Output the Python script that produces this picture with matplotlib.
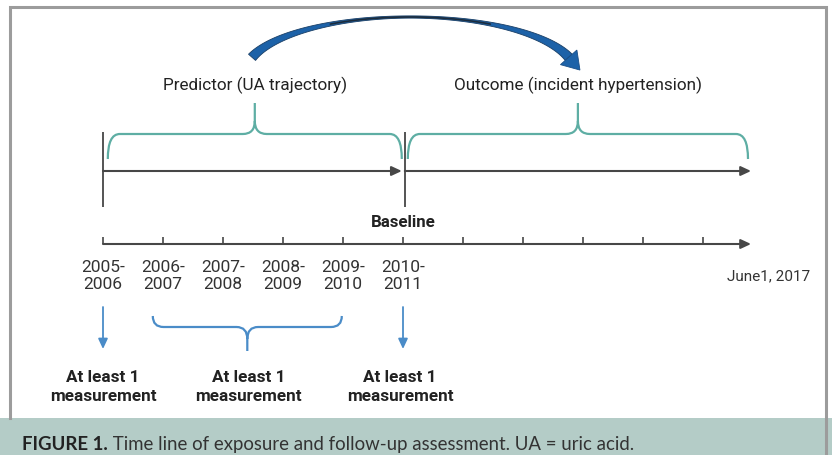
import matplotlib
matplotlib.use("Agg")
import matplotlib.pyplot as plt
import numpy as np
from matplotlib.patches import PathPatch, Rectangle, Polygon
from matplotlib.path import Path

FONT = ["Roboto", "DejaVu Sans"]
plt.rcParams["font.family"] = FONT

# time axis, one unit per survey period
period_labels = ["2005-\n2006", "2006-\n2007", "2007-\n2008",
                 "2008-\n2009", "2009-\n2010", "2010-\n2011"]
n_ticks = 11
axis_end = 10.8
end_label = "June1, 2017"
baseline_idx = 5
baseline_label = "Baseline"

phase_labels = ["Predictor (UA trajectory)", "Outcome (incident hypertension)"]
phase_spans = [(0.08, 4.98), (5.08, 10.75)]

measure_label = "At least 1\nmeasurement"
measure_points = [0, 5]          # single-period windows (arrows)
measure_span = (0.83, 3.98)      # multi-period window (brace)
measure_text_x = [0, 2.42, 4.95]

caption_bold = "FIGURE 1."
caption_rest = " Time line of exposure and follow-up assessment. UA = uric acid."

GRAY = "#474747"
TEAL = "#5eaea4"
BLUE = "#4a8cc8"
DARKBLUE = "#1d62a8"
BAND = "#b4ccc7"

W, H = 832, 456
fig = plt.figure(figsize=(W / 100, H / 100), dpi=100)

# frame axes in pixels (border, caption band, curved arrow)
frame = fig.add_axes([0, 0, 1, 1], zorder=0)
frame.set_xlim(0, W)
frame.set_ylim(H, 0)
frame.axis("off")
frame.add_patch(Rectangle((0, 419), W, H - 419, color=BAND, lw=0))
frame.plot([10, 10, 826, 826], [419, 8, 8, H], color="#9c9c9c", lw=2.2,
           solid_joinstyle="miter")

# main axes: x in periods, y in pixel rows
x0, step = 103, 60
ax = fig.add_axes([0, 0, 1, 1], zorder=1)
ax.set_xlim(-x0 / step, (W - x0) / step)
ax.set_ylim(H, 0)
ax.axis("off")


def arrow(xa, ya, xb, yb, color, lw=1.5):
    ax.annotate("", xy=(xb, yb), xytext=(xa, ya),
                arrowprops=dict(arrowstyle="-|>,head_length=0.6,head_width=0.28",
                                color=color, lw=lw, shrinkA=0, shrinkB=0))


def brace(xa, xb, y_tip, y_bar, y_peak, y_stem, color, r=0.2):
    xm = (xa + xb) / 2
    verts, codes = [], []
    for xe, sgn in ((xa, 1), (xb, -1)):
        verts += [(xe, y_tip), (xe, y_bar), (xe + sgn * r, y_bar),
                  (xm - sgn * r, y_bar), (xm, y_bar), (xm, y_peak)]
        codes += [Path.MOVETO, Path.CURVE3, Path.CURVE3,
                  Path.LINETO, Path.CURVE3, Path.CURVE3]
    verts += [(xm, y_peak), (xm, y_stem)]
    codes += [Path.MOVETO, Path.LINETO]
    ax.add_patch(PathPatch(Path(verts, codes), fc="none", ec=color, lw=1.6))
    return xm


# top braces and phase labels
mids = []
for (xa, xb), lab in zip(phase_spans, phase_labels):
    xm = brace(xa, xb, 160, 135, 122, 104, TEAL)
    mids.append(xm)
    ax.text(xm, 85, lab, ha="center", va="center", fontsize=12.3, color="#222222")

# curved arrow from predictor to outcome (elliptic arc, thin at the top)
pa, pb = x0 + step * mids[0], x0 + step * mids[1]
cx, a = (pa + pb) / 2 - 6, (pb - pa) / 2 + 4
cy, b = 75, 57
phi = np.radians(np.linspace(163, 17, 150))
pts = np.column_stack([cx + a * np.cos(phi), cy - b * np.sin(phi)])
tang = np.column_stack([a * np.sin(phi), b * np.cos(phi)])
tang /= np.hypot(tang[:, 0], tang[:, 1])[:, None]
nrm = np.column_stack([-tang[:, 1], tang[:, 0]])
m = np.abs(np.linspace(-1, 1, len(phi)))
hw = 1.1 + 3.6 * m ** 1.6
outline = np.vstack([pts + nrm * hw[:, None], (pts - nrm * hw[:, None])[::-1]])
frame.add_patch(Polygon(outline, closed=True, fc=DARKBLUE, ec="#1a3f66", lw=0.6))
frame.plot(pts[45:105, 0], pts[45:105, 1], color="#1c2c3c", lw=1.2,
           solid_capstyle="round")
end, d = pts[-1], tang[-1]
n = nrm[-1]
frame.add_patch(Polygon([end + n * 11, end - n * 11, end + d * 17],
                        closed=True, fc=DARKBLUE, ec="#1a4f88", lw=0.6))

# exposure / follow-up line
ax.vlines([0, baseline_idx + 0.03], 133, 208, color=GRAY, lw=1.3)
arrow(0, 172, baseline_idx - 0.02, 172, GRAY)
arrow(baseline_idx + 0.03, 172, axis_end, 172, GRAY)
ax.text(baseline_idx, 223, baseline_label, ha="center", va="center",
        fontsize=12.2, fontweight="bold", color="#222222")

# calendar axis
arrow(0, 245, axis_end, 245, GRAY)
ax.vlines(range(n_ticks), 238, 245, color=GRAY, lw=1.2)
for i, lab in enumerate(period_labels):
    ax.text(i, 276, lab, ha="center", va="center", fontsize=12.5,
            linespacing=1.2, color="#333333")
ax.text(axis_end + 0.3, 276, end_label, ha="center", va="center",
        fontsize=11, color="#333333")

# measurement requirements
for xp in measure_points:
    arrow(xp, 308, xp, 350, BLUE, lw=1.3)
brace(measure_span[0], measure_span[1], 317, 328, 340, 352, BLUE, r=0.18)
for xt in measure_text_x:
    ax.text(xt, 387, measure_label, ha="center", va="center", fontsize=12.3,
            fontweight="bold", linespacing=1.35, color="#222222")

# caption
t = frame.text(22, 445, caption_bold, ha="left", va="center", fontsize=13.4,
               fontweight="bold", color="#222222", family=["Lato", "DejaVu Sans"])
frame.annotate(caption_rest, xy=(1, 0), xycoords=t, ha="left", va="bottom",
               fontsize=13.4, color="#333333", family=["Lato", "DejaVu Sans"])

fig.savefig("out.png", dpi=100)
